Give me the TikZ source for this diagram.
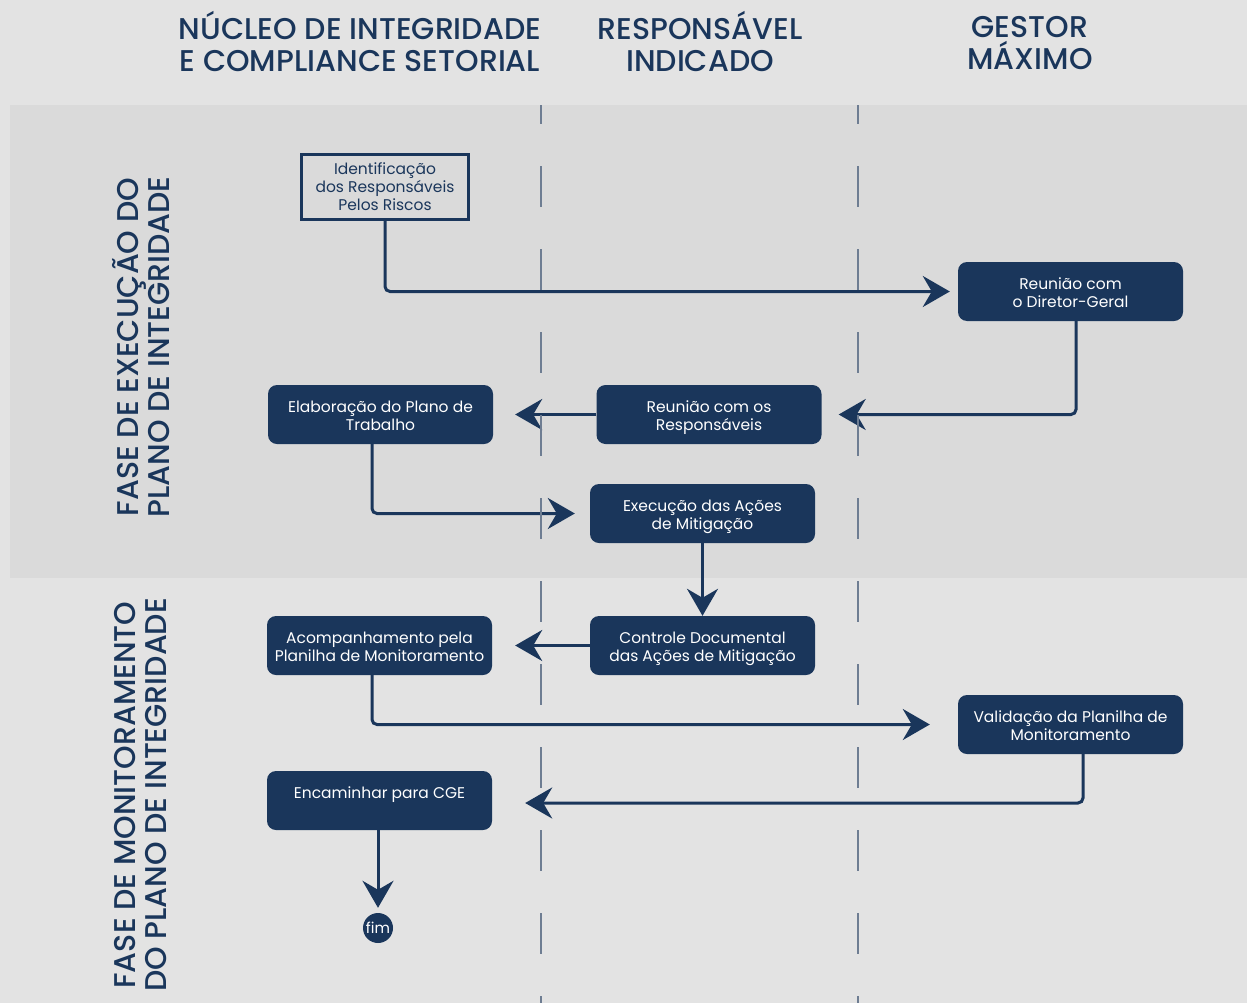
\documentclass[tikz,border=0pt]{standalone}
\usepackage{fontspec}
\setmainfont{Poppins}
\newfontfamily\headfont{Poppins Medium}
\usetikzlibrary{arrows.meta}
\definecolor{navy}{HTML}{1A365B}
\definecolor{pagegray}{HTML}{E3E3E3}
\definecolor{bandgray}{HTML}{DADADA}
\definecolor{lanegray}{HTML}{6E7D92}
% text of a step, set a little lower in its box
\newcommand\steptext[1]{\raisebox{-3pt}[\height][\depth]{\begin{tabular}{@{}c@{}}#1\end{tabular}}}
\tikzset{
  task/.style={fill=navy, text=white, rounded corners=9pt, minimum width=225pt, minimum height=59pt, inner sep=0pt, font=\fontsize{15.5}{18}\selectfont},
  flow/.style={draw=navy, line width=3pt, rounded corners=5pt, -{Stealth[length=27pt,width=31pt,inset=9pt]}},
  head/.style={text=navy, align=center, font=\headfont\fontsize{30}{32}\selectfont},
}
\begin{document}
\begin{tikzpicture}[x=1pt,y=-1pt]
\fill[pagegray] (0,0) rectangle (1247,1003);
\fill[bandgray] (10,105) rectangle (1247,578);
% lanes and phases
\node[head] (hnucleo) at (360,41) {NÚCLEO DE INTEGRIDADE\\E COMPLIANCE SETORIAL};
\node[head] (hresp) at (700,41) {RESPONSÁVEL\\INDICADO};
\node[head] (hgestor) at (1030,43) {GESTOR\\MÁXIMO};
\node[head, rotate=90, font=\headfont\fontsize{30}{31}\selectfont] (fexec) at (141,347) {FASE DE EXECUÇÃO DO\\PLANO DE INTEGRIDADE};
\node[head, rotate=90, font=\headfont\fontsize{30}{31}\selectfont] (fmonit) at (141,795) {FASE DE MONITORAMENTO\\DO PLANO DE INTEGRIDADE};
% steps
\node[draw=navy, line width=3pt, text=navy, minimum width=167pt, minimum height=65pt, align=center, inner sep=0pt, font=\fontsize{15.5}{18}\selectfont] (ident) at (385,187) {Identificação\\dos Responsáveis\\Pelos Riscos};
\node[task] (diretor) at (1070.5,291.5) {\steptext{Reunião com\\o Diretor-Geral}};
\node[task] (reuniao) at (709,414.5) {\steptext{Reunião com os\\Responsáveis}};
\node[task] (elab) at (380.5,414.5) {\steptext{Elaboração do Plano de\\Trabalho}};
\node[task] (exec) at (702.5,513.5) {\steptext{Execução das Ações\\de Mitigação}};
\node[task] (controle) at (702.5,645.5) {\steptext{Controle Documental\\das Ações de Mitigação}};
\node[task] (acomp) at (379.5,645.5) {\steptext{Acompanhamento pela\\Planilha de Monitoramento}};
\node[task] (valid) at (1070.5,724.5) {\steptext{Validação da Planilha de\\Monitoramento}};
\node[task] (encam) at (379.5,800.5) {\steptext{Encaminhar para CGE\\~}};
\node[circle, fill=navy, text=white, minimum size=30pt, inner sep=0pt, font=\fontsize{15}{16}\selectfont] (fim) at (378,928) {fim};
% connectors
\draw[flow, shorten >=8pt] (ident.south) |- (diretor.west);
\draw[flow, shorten >=17pt] ([xshift=5.5pt]diretor.south) |- (reuniao.east);
\draw[flow, shorten >=22pt] (reuniao.west) -- (elab.east);
\draw[flow, shorten >=15pt] ([xshift=-8.5pt]elab.south) |- (exec.west);
\draw[flow] (exec.south) -- (controle.north);
\draw[flow, shorten >=23pt] (controle.west) -- (acomp.east);
\draw[flow, shorten >=28pt] ([xshift=-7.5pt]acomp.south) |- (valid.west);
\draw[flow, shorten >=33pt] ([xshift=12.5pt]valid.south) |- ([yshift=-2.5pt]encam.east);
\draw[flow, shorten >=5pt] (encam.south -| fim.north) -- (fim.north);
% lane separators
\foreach \lx in {541,858}
  \draw[lanegray, line width=1.6pt, dash pattern=on 41pt off 42pt, dash phase=22pt] (\lx,105) -- (\lx,1003);
\end{tikzpicture}
\end{document}
